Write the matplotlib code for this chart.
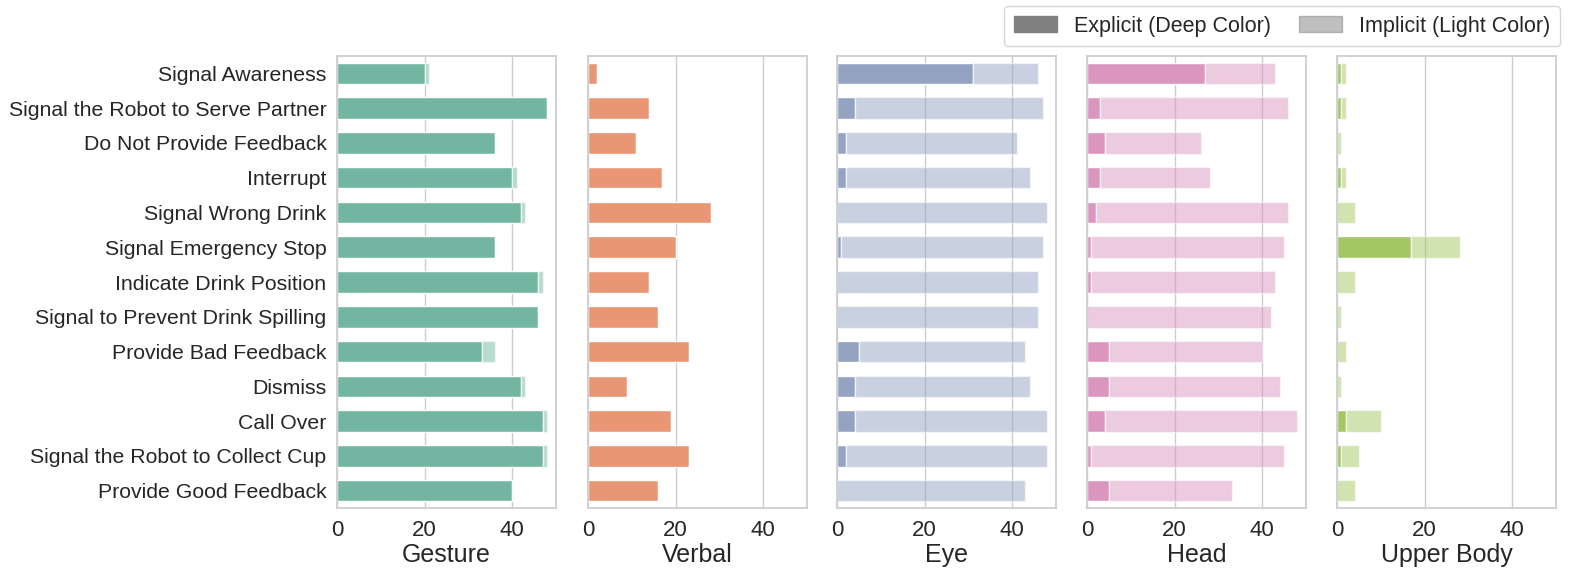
import matplotlib
matplotlib.use("Agg")
import matplotlib.pyplot as plt
import matplotlib.patches as mpatches
import seaborn as sns
import numpy as np

sns.set_theme(style="whitegrid")
plt.rcParams['font.family'] = ['Liberation Sans', 'DejaVu Sans']

signals = ["Signal Awareness", "Signal the Robot to Serve Partner", "Do Not Provide Feedback",
           "Interrupt", "Signal Wrong Drink", "Signal Emergency Stop", "Indicate Drink Position",
           "Signal to Prevent Drink Spilling", "Provide Bad Feedback", "Dismiss", "Call Over",
           "Signal the Robot to Collect Cup", "Provide Good Feedback"]
modalities = ["Gesture", "Verbal", "Eye", "Head", "Upper Body"]

# explicit (deep) and implicit (light) counts per signal
gesture_exp = [20, 48, 36, 40, 42, 36, 46, 46, 33, 42, 47, 47, 40]
gesture_imp = [1, 0, 0, 1, 1, 0, 1, 0, 3, 1, 1, 1, 0]
verbal_exp = [2, 14, 11, 17, 28, 20, 14, 16, 23, 9, 19, 23, 16]
verbal_imp = [0, 0, 0, 0, 0, 0, 0, 0, 0, 0, 0, 0, 0]
eye_exp = [31, 4, 2, 2, 0, 1, 0, 0, 5, 4, 4, 2, 0]
eye_imp = [15, 43, 39, 42, 48, 46, 46, 46, 38, 40, 44, 46, 43]
head_exp = [27, 3, 4, 3, 2, 1, 1, 0, 5, 5, 4, 1, 5]
head_imp = [16, 43, 22, 25, 44, 44, 42, 42, 35, 39, 44, 44, 28]
upper_exp = [1, 1, 0, 1, 0, 17, 0, 0, 0, 0, 2, 1, 0]
upper_imp = [1, 1, 1, 1, 4, 11, 4, 1, 2, 1, 8, 4, 4]

explicit = [gesture_exp, verbal_exp, eye_exp, head_exp, upper_exp]
implicit = [gesture_imp, verbal_imp, eye_imp, head_imp, upper_imp]

palette = sns.color_palette("Set2", 5)

W, H = 1578, 572
fig = plt.figure(figsize=(W / 100, H / 100), dpi=100)
lefts = [337, 588, 837, 1087, 1337]
aw = 219
top, bot = 56, 508

y = np.arange(len(signals))
axes = []
for i, name in enumerate(modalities):
    ax = fig.add_axes([lefts[i] / W, 1 - bot / H, aw / W, (bot - top) / H])
    axes.append(ax)
    col = sns.desaturate(palette[i], 0.75)
    exp = np.array(explicit[i])
    imp = np.array(implicit[i])
    ax.barh(y, exp, height=0.62, color=col, edgecolor="white", linewidth=1)
    ax.barh(y, imp, left=exp, height=0.62, color=col, alpha=0.5, edgecolor="white", linewidth=1)
    ax.set_xlim(0, 50)
    ax.set_ylim(len(signals) - 0.5, -0.5)
    ax.set_xticks([0, 20, 40])
    ax.grid(axis="y", visible=False)
    ax.tick_params(axis="x", labelsize=16, pad=3)
    ax.set_xlabel(name, fontsize=18, labelpad=1)
    ax.set_yticks(y)
    if i == 0:
        ax.set_yticklabels(signals, fontsize=15.3)
        ax.tick_params(axis="y", length=0, pad=7.5)
    else:
        ax.set_yticklabels([])
        ax.tick_params(axis="y", length=0)

handles = [mpatches.Patch(color="grey", label="Explicit (Deep Color)"),
           mpatches.Patch(color="grey", alpha=0.5, label="Implicit (Light Color)")]
fig.legend(handles=handles, loc="upper right", bbox_to_anchor=(1560 / W, 1 - 6 / H), ncol=2,
           fontsize=15.5, frameon=True, handlelength=2.0, handleheight=0.75,
           columnspacing=1.3, handletextpad=0.8, borderpad=0.45, borderaxespad=0)

fig.savefig("out.png", dpi=100)
